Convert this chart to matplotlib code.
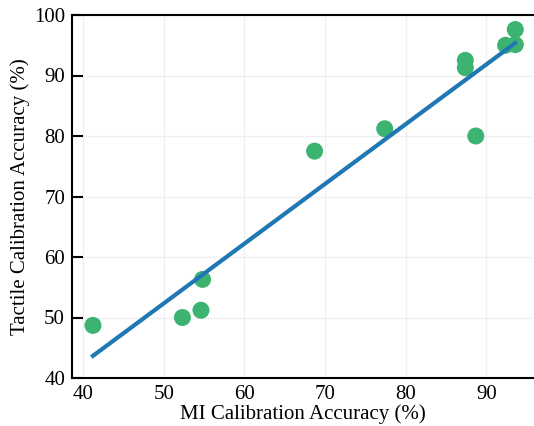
import numpy as np
import matplotlib.pyplot as plt

plt.rcParams['font.family'] = ['Liberation Serif', 'DejaVu Serif']

# MI vs tactile calibration accuracy per participant
mi_acc = [41.2, 52.3, 54.6, 54.8, 68.7, 77.4, 87.4, 87.4, 88.7, 92.4, 93.6, 93.6]
tactile_acc = [48.7, 50.0, 51.2, 56.3, 77.5, 81.2, 92.5, 91.3, 80.0, 95.0, 97.6, 95.1]

x = np.array(mi_acc)
y = np.array(tactile_acc)
slope, intercept = np.polyfit(x, y, 1)

fig = plt.figure(figsize=(5.34, 4.26), dpi=100)
ax = fig.add_axes([72 / 534, 1 - 378 / 426, (533 - 72) / 534, (378 - 15) / 426])

ax.grid(True, color='#f0f0f0', linewidth=1.0, zorder=0)
ax.scatter(x, y, s=150, color='#3cb371', edgecolors='none', zorder=3)
ax.plot(x, slope * x + intercept, color='#1f77b4', linewidth=3, zorder=4)

ax.set_xlim(38.6, 95.8)
ax.set_ylim(40, 100)
ax.set_xticks([40, 50, 60, 70, 80, 90])
ax.set_yticks([40, 50, 60, 70, 80, 90, 100])

ax.set_xlabel('MI Calibration Accuracy (%)', fontsize=15, labelpad=0)
ax.set_ylabel('Tactile Calibration Accuracy (%)', fontsize=15, labelpad=3)
ax.tick_params(axis='y', direction='in', length=8, width=1.5, labelsize=15, pad=5)
ax.tick_params(axis='x', length=0, labelsize=15, pad=5)

ax.spines['right'].set_visible(False)
for s in ['left', 'top', 'bottom']:
    ax.spines[s].set_linewidth(1.5)
    ax.spines[s].set_color('black')

fig.savefig('out.png', dpi=100)
